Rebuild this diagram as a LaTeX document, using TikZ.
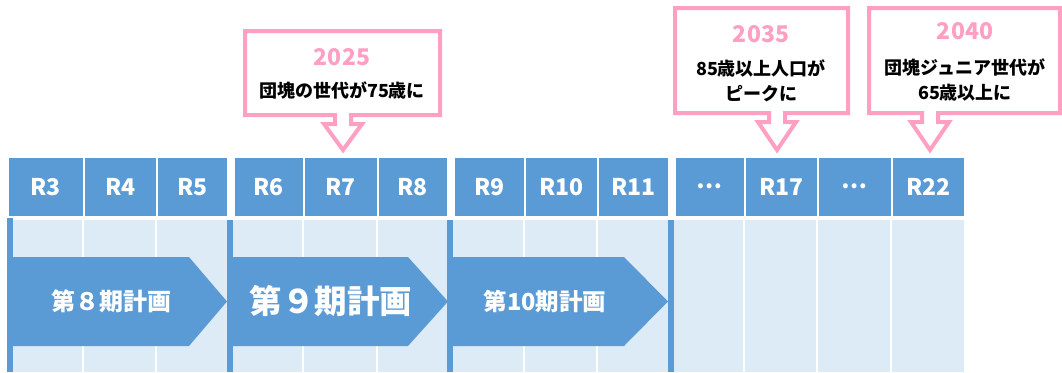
\documentclass[tikz,border=0pt]{standalone}
\usepackage{fontspec}
\setmainfont{Noto Sans CJK JP}
\definecolor{hdblue}{RGB}{91,155,213}
\definecolor{bodyblue}{RGB}{221,235,247}
\definecolor{notepink}{RGB}{255,160,195}
\tikzset{
  cell/.style={fill=hdblue,draw=white,line width=1.5pt,anchor=north west,
    minimum height=60,inner sep=0,text=white,font=\bfseries\fontsize{23}{24}\selectfont},
  plan/.style={text=white,font=\bfseries\fontsize{#1}{#1}\selectfont},
  callout/.style={draw=notepink,line width=4pt,fill=white,line join=miter},
  year/.style={text=notepink,font=\bfseries\fontsize{23}{24}\selectfont},
  note/.style={align=center,font=\bfseries\fontsize{18}{25}\selectfont}
}
\begin{document}
\begin{tikzpicture}[x=1pt,y=-1pt]
\useasboundingbox (0,0) rectangle (1062,372);
% table body
\fill[bodyblue] (7,220) rectangle (964,372);
\foreach \x in {83,156,303,377,524,597,744,817,891}
  \draw[white,line width=1.5pt] (\x,220) -- (\x,372);
\fill[hdblue] (7,216) rectangle (13,372);
\foreach \x in {227,447,668}
  \fill[hdblue] (\x,220) rectangle (\x+6,372);
% header row
\foreach \n/\x/\w/\t in {r3/7/76/R3, r4/83/73/R4, r5/156/71/R5,
    r6/233/70/R6, r7/303/74/R7, r8/377/70/R8,
    r9/453/71/R9, r10/524/73/R10, r11/597/71/R11,
    d1/674/70/⋯, r17/744/73/R17, d2/817/74/⋯, r22/891/73/R22}
  \node[cell,minimum width=\w] (\n) at (\x,156) {\t};
% plan arrows
\fill[hdblue] (13,257) -- (189,257) -- (227,301.5) -- (189,346) -- (13,346) -- cycle;
\node[plan=24] (p8) at (111,301.5) {第８期計画};
\fill[hdblue] (233,257) -- (408,257) -- (448,301.5) -- (408,346) -- (233,346) -- cycle;
\node[plan=32.5] (p9) at (331,301.5) {第９期計画};
\fill[hdblue] (453,257) -- (624,257) -- (668,301.5) -- (624,346) -- (453,346) -- cycle;
\node[plan=23.5] (p10) at (545,301.5) {第10期計画};
% callouts
\draw[callout] (245,31) -- (440,31) -- (440,115) -- (351,115) -- (351,124) -- (362,124)
  -- (343,150) -- (324,124) -- (335,124) -- (335,115) -- (245,115) -- cycle;
\node[year] (y25) at (342,57) {2025};
\node[note] (n25) at (342,90) {団塊の世代が75歳に};
\draw[callout] (675,8) -- (848,8) -- (848,113) -- (785,113) -- (785,122) -- (796,122)
  -- (777,150) -- (758,122) -- (769,122) -- (769,113) -- (675,113) -- cycle;
\node[year] (y35) at (761,34) {2035};
\node[note] (n35) at (761,81) {85歳以上人口が\\ピークに};
\draw[callout] (869,8) -- (1060,8) -- (1060,113) -- (938,113) -- (938,122) -- (949,122)
  -- (930,150) -- (911,122) -- (922,122) -- (922,113) -- (869,113) -- cycle;
\node[year] (y40) at (965,31) {2040};
\node[note] (n40) at (965,80) {団塊ジュニア世代が\\65歳以上に};
\end{tikzpicture}
\end{document}
